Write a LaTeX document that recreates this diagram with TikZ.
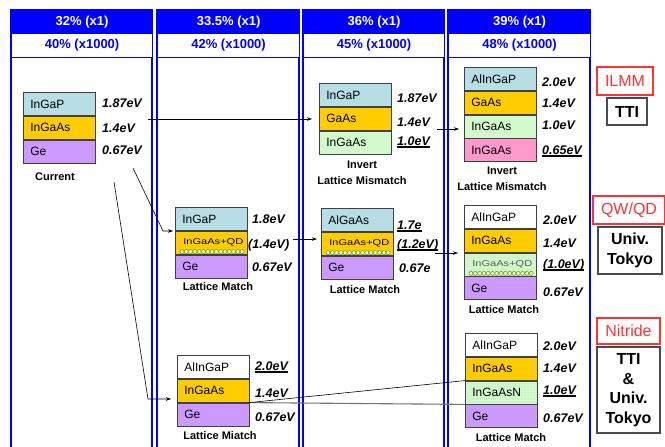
\documentclass[tikz,border=0pt]{standalone}
\usepackage{fontspec}
\setmainfont{Liberation Sans}
\usetikzlibrary{arrows.meta,calc,patterns}
\definecolor{lblue}{RGB}{183,222,228}
\definecolor{gold}{RGB}{255,204,0}
\definecolor{lav}{RGB}{204,153,255}
\definecolor{lgreen}{RGB}{210,250,205}
\definecolor{pink}{RGB}{255,153,204}
\definecolor{hblue}{RGB}{0,0,255}
\definecolor{redb}{RGB}{255,51,51}
\definecolor{qdgreen}{RGB}{110,170,50}
\definecolor{qdfill}{RGB}{255,255,200}
\newcommand{\evul}[1]{\setbox0\hbox{#1}\copy0\llap{\rule[-2.4pt]{\wd0}{1.3pt}}}
\newcommand{\fs}[1]{\fontsize{#1}{#1}\selectfont}
\newcommand{\qdtxt}[1]{\hspace*{1pt}\scalebox{1.3}[1]{#1}}
\begin{document}
\begin{tikzpicture}[x=1pt,y=-1pt,
  colframe/.style={draw=hblue, line width=1.4pt},
  hdr/.style={fill=hblue, draw=hblue, line width=1.2pt, text=white, minimum width=141pt, minimum height=23pt, anchor=north west, inner sep=0pt, font=\fs{13}\bfseries},
  subhdr/.style={fill=white, draw=hblue, line width=1.2pt, text=hblue, minimum width=141pt, minimum height=24pt, anchor=north west, inner sep=0pt, font=\fs{13}\bfseries},
  layer/.style={draw=black!75, line width=0.8pt, minimum height=23pt, text width=57.5pt, inner xsep=7pt, inner ysep=0pt, align=left, anchor=north, font=\fs{12}},
  smalltxt/.style={font=\fs{8.5}},
  patgreen/.style={fill=lgreen, postaction={pattern=dots, pattern color=green!55!black!35}},
  evlab/.style={anchor=west, inner sep=0pt, font=\fs{12.5}\bfseries\itshape},
  captxt/.style={inner sep=0pt, align=center, font=\fontsize{11}{16}\selectfont\bfseries},
  arr/.style={-{Stealth[length=5pt,width=3.5pt]}, line width=0.6pt, black},
  conn/.style={line width=0.6pt, black},
  connb/.style={line width=1.1pt, black!55},
  qdot/.style={draw=qdgreen, fill=qdfill, line width=0.7pt},
  redbox/.style={draw=redb, line width=1.3pt, text=redb, font=\fs{16}, inner sep=0pt},
  blkbox/.style={draw=black!70, line width=1.3pt, font=\fontsize{16}{19.5}\selectfont\bfseries, align=center, inner sep=0pt}]
\clip (0,0) rectangle (665,447);
\fill[white] (0,0) rectangle (665,447);
% column frames
\foreach \xa/\xb in {11/152,157/299,303/444,448/590}
  \draw[colframe] (\xa,10) rectangle (\xb,470);
% headers
\node[hdr, minimum width=141pt] (h1) at (11,10) {32\% (x1)};
\node[hdr, minimum width=142pt] (h2) at (157,10) {33.5\% (x1)};
\node[hdr, minimum width=141pt] (h3) at (303,10) {36\% (x1)};
\node[hdr, minimum width=142pt] (h4) at (448,10) {39\% (x1)};
\node[subhdr, minimum width=141pt] (u1) at (11,33) {40\% (x1000)};
\node[subhdr, minimum width=142pt] (u2) at (157,33) {42\% (x1000)};
\node[subhdr, minimum width=141pt] (u3) at (303,33) {45\% (x1000)};
\node[subhdr, minimum width=142pt] (u4) at (448,33) {48\% (x1000)};

% Stack A (Current)
\node[layer, anchor=north west, fill=lblue] (a1) at (23,92) {InGaP};
\node[layer, fill=gold] (a2) at (a1.south) {InGaAs};
\node[layer, fill=lav] (a3) at (a2.south) {Ge};
\node[evlab] (a1l) at (102,103) {1.87eV};
\node[evlab] (a2l) at (102,128) {1.4eV};
\node[evlab] (a3l) at (102,150) {0.67eV};
\node[captxt] (acap) at (55,177) {Current};

% Stack B (col3 top)
\node[layer, anchor=north west, fill=lblue] (b1) at (319,83) {InGaP};
\node[layer, fill=gold] (b2) at (b1.south) {GaAs};
\node[layer, fill=lgreen] (b3) at (b2.south) {InGaAs};
\node[evlab] (b1l) at (397,98) {1.87eV};
\node[evlab] (b2l) at (397,122) {1.4eV};
\node[evlab] (b3l) at (397,142) {\evul{1.0eV}};
\node[captxt] (bcap) at (362,173) {Invert\\Lattice Mismatch};

% Stack C (col4 top)
\node[layer, anchor=north west, fill=lblue] (c1) at (464,67) {AlInGaP};
\node[layer, fill=gold] (c2) at (c1.south) {GaAs};
\node[layer, fill=lgreen] (c3) at (c2.south) {InGaAs};
\node[layer, fill=pink] (c4) at (c3.south) {InGaAs};
\node[evlab] (c1l) at (542,82) {2.0eV};
\node[evlab] (c2l) at (542,103) {1.4eV};
\node[evlab] (c3l) at (542,125) {1.0eV};
\node[evlab] (c4l) at (542,151) {\evul{0.65eV}};
\node[captxt] (ccap) at (502,179) {Invert\\Lattice Mismatch};

% Stack D (col2 middle)
\node[layer, anchor=north west, fill=lblue] (d1) at (175,207) {InGaP};
\node[layer, fill=gold, smalltxt] (d2) at (d1.south) {\qdtxt{InGaAs+QD}};
\node[layer, fill=lav] (d3) at (d2.south) {Ge};
\node[evlab] (d1l) at (252,219) {1.8eV};
\node[evlab] (d2l) at (248,245) {(1.4eV)};
\node[evlab] (d3l) at (252,267) {0.67eV};
\node[captxt] (dcap) at (218,287) {Lattice Match};

% Stack E (col3 middle)
\node[layer, anchor=north west, fill=lblue] (e1) at (321,208) {AlGaAs};
\node[layer, fill=gold, smalltxt] (e2) at (e1.south) {\qdtxt{InGaAs+QD}};
\node[layer, fill=lav] (e3) at (e2.south) {Ge};
\node[evlab] (e1l) at (397,226) {\evul{1.7e}};
\node[evlab] (e2l) at (397,245) {\evul{(1.2eV)}};
\node[evlab] (e3l) at (399,268) {0.67e};
\node[captxt] (ecap) at (365,290) {Lattice Match};

% Stack F (col4 middle)
\node[layer, anchor=north west, fill=white] (f1) at (464,205) {AlInGaP};
\node[layer, fill=gold] (f2) at (f1.south) {InGaAs};
\node[layer, patgreen, smalltxt, text=black!65] (f3) at (f2.south) {\qdtxt{InGaAs+QD}};
\node[layer, fill=lav] (f4) at (f3.south) {Ge};
\node[evlab] (f1l) at (543,220) {2.0eV};
\node[evlab] (f2l) at (543,243) {1.4eV};
\node[evlab] (f3l) at (543,265) {\evul{(1.0eV)}};
\node[evlab] (f4l) at (543,292) {0.67eV};
\node[captxt] (fcap) at (504,310) {Lattice Match};

% Stack G (col2 bottom)
\node[layer, anchor=north west, fill=white] (g1) at (177,355) {AlInGaP};
\node[layer, fill=gold] (g2) at (g1.south) {InGaAs};
\node[layer, fill=lav] (g3) at (g2.south) {Ge};
\node[evlab] (g1l) at (255,367) {\evul{2.0eV}};
\node[evlab] (g2l) at (255,393) {1.4eV};
\node[evlab] (g3l) at (255,417) {0.67eV};
\node[captxt] (gcap) at (220,436) {Lattice Miatch};

% Stack H (col4 bottom)
\node[layer, anchor=north west, fill=white] (k1n) at (465,333) {AlInGaP};
\node[layer, fill=gold] (k2n) at (k1n.south) {InGaAs};
\node[layer, patgreen] (k3n) at (k2n.south) {InGaAsN};
\node[layer, fill=lav] (k4n) at (k3n.south) {Ge};
\node[evlab] (k1l) at (543,346) {2.0eV};
\node[evlab] (k2l) at (543,368) {1.4eV};
\node[evlab] (k3l) at (543,391) {\evul{1.0eV}};
\node[evlab] (k4l) at (543,418) {0.67eV};
\node[captxt] (kcap) at (511,438) {Lattice Match};

% quantum dots
\foreach \n in {d2,e2,f3}
  \foreach \i in {0,...,14}
    \draw[qdot] ($(\n.south west)+(7+\i*4.3,-3)$) circle[radius=2pt];

% connectors
\coordinate (s1) at (148,119);
\draw[arr, shorten >=7pt] (s1) -- (s1 -| b2.west);
\coordinate (s2) at (437,129);
\draw[arr, shorten >=5pt] (s2) -- (s2 -| c3.west);
\coordinate (s3) at (293,239);
\draw[arr, shorten >=4pt] (s3) -- (s3 -| e2.west);
\coordinate (s4) at (435,253);
\draw[arr, shorten >=6pt] (s4) -- (s4 -| f3.west);
\coordinate (s5) at (133,168);
\coordinate (t1) at (163,231);
\draw[arr, shorten >=2pt] (s5) -- (t1) -- (t1 -| d2.west);
\coordinate (s6) at (114,182);
\coordinate (t2) at (148,399);
\draw[arr, shorten >=6pt] (s6) -- (t2) -- (t2 -| g2.west);
\draw[connb] (g2.south east) -- (k3n.south west);
\draw[conn] (g2.south east) -- (k2n.south west);

% right-hand labels
\node[redbox, minimum width=56pt, minimum height=28pt] (r1) at (625,81) {ILMM};
\node[blkbox, minimum width=40pt, minimum height=27pt] (r1b) at (627,111.5) {TTI};
\node[redbox, minimum width=72pt, minimum height=28pt] (r2) at (629,210) {QW/QD};
\node[blkbox, minimum width=64pt, minimum height=47pt] (r2b) at (630,250.5) {Univ.\\Tokyo};
\node[redbox, minimum width=63pt, minimum height=26pt] (r3) at (628.5,331) {Nitride};
\node[blkbox, minimum width=63pt, minimum height=86pt] (r3b) at (628.5,390) {TTI\\\&\\Univ.\\Tokyo};
\end{tikzpicture}
\end{document}
